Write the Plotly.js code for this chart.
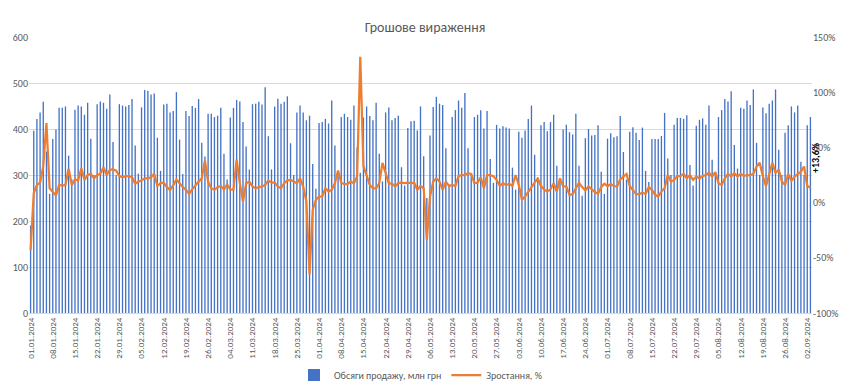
<!DOCTYPE html>
<html>
<head>
<meta charset="utf-8">
<script src="https://cdn.plot.ly/plotly-3.0.1.min.js"></script>
<style>html,body{margin:0;padding:0;background:#fff;}#chart{width:850px;height:390px;}</style>
</head>
<body>
<div id="chart"></div>
<script>
// Categories: daily dates from 01.01.2024 to 03.09.2024
const startDate = [2024, 0, 1];
const dayCount = 247;
const titleText = "Грошове вираження";
const seriesNames = ["Обсяги продажу, млн грн", "Зростання, %"];
const lastLabel = "+13,6%";

// Sales, mln UAH (left axis)
const sales = [
190,396,422,436,459,351,259,378,399,446,
446,449,342,290,442,451,449,431,457,379,
300,454,460,457,444,475,372,300,454,451,
449,452,465,364,303,447,485,483,475,477,
381,309,453,455,436,439,480,377,302,439,
428,450,446,465,370,340,433,433,426,429,
446,346,290,425,446,463,460,415,362,312,
454,455,459,453,491,384,312,449,466,455,
459,471,369,300,436,451,436,419,429,324,
270,413,415,422,412,462,364,300,426,433,
426,420,451,360,305,425,449,428,419,457,
346,286,436,447,419,424,429,317,277,402,
417,418,397,449,341,250,386,448,470,455,
452,358,280,426,441,462,446,478,358,300,
426,431,441,401,439,335,283,409,401,406,
403,401,316,268,394,381,397,422,451,344,
295,408,415,395,415,431,320,285,399,409,
393,388,433,320,255,380,400,386,387,408,
307,259,379,391,382,384,428,350,290,394,
404,392,376,403,309,285,378,378,378,385,
435,336,300,409,424,424,422,430,322,277,
407,420,423,409,451,333,300,426,441,465,
460,482,365,314,446,444,462,452,486,370,
300,447,434,455,462,486,355,300,392,408,
449,436,451,329,300,408,426
];

// Growth, % (right axis)
const growth = [
-43,8.6,16,18,33,72,13,10,6.5,16,
15.5,16,30.6,16,21,20,31,20.6,25,26,
22,25,26,32,25,29.7,30,29,24,23,
24,24,23,17,19,20,22,22,23,26,
15,
17.6,18,14,11.6,15.5,21,17.6,14,11.6,8,
12,16,19,22,38,19,13,11.6,14,15,
12,16.4,12,11.6,39,17.6,1,17.6,19,14.6,
13,14,14.6,16,20,18,18,14.6,13,17.6,
20,
20.6,19,17.6,22,14.6,1,-65,-6.5,2.5,5.5,
5.5,13,10,11.6,17.6,29,18,16.7,17,19,
17.6,23.6,132,33,23.6,16,13,13,17.6,36,
26.7,17.6,17,14.6,17.6,18,17.6,18,17.6,18,
11.6,
15,13,-34,5.5,19,22,19,11.6,19,15,
16,15,24,25,25,26.7,26,17.6,18,23,
13,25,25,24,20.6,15,17.6,16,17,15,
25,16,2.5,5.5,10,14.6,18,22,15,12,
10,
12,17.6,10,22,14.6,14.6,7,7.6,13,18,
14,11,14.6,11.6,9.5,8,14,17,15,16.7,
15,14.6,21,23.6,26,15,11.6,7.6,7.6,9,
8,14,11.6,7,5.5,10,13,25,19,20.6,
24,
24,26,22,25,20.6,23.6,22,24,25,27,
23.6,27.6,17.6,16,22,26,23.6,26.7,23.6,26,
24,25,25,26,32.7,36,23.6,15,25,36,
26.7,30,19,16,26,19.8,23.6,26,28,32.7,
15,13.6
];

// Axis ticks
const leftTicks = [0,100,200,300,400,500,600];
const rightTicks = [-100,-50,0,50,100,150];
const rightTickText = ["-100%","-50%","0%","50%","100%","150%"];
const tickStep = 7;

function pad(n){ return (n < 10 ? "0" : "") + n; }
const dates = [];
for (let i = 0; i < dayCount; i++) {
  const d = new Date(startDate[0], startDate[1], startDate[2] + i);
  dates.push(pad(d.getDate()) + "." + pad(d.getMonth() + 1) + "." + d.getFullYear());
}
const xTickVals = dates.filter((_, i) => i % tickStep === 0);

const grey = "#595959";
const font = "Calibri, Carlito, 'Liberation Sans', Roboto, sans-serif";

const traces = [
  {
    type: "bar",
    name: seriesNames[0],
    x: dates,
    y: sales,
    marker: { color: "#4472C4", line: { width: 0 } },
    yaxis: "y"
  },
  {
    type: "scatter",
    mode: "lines",
    name: seriesNames[1],
    x: dates,
    y: growth,
    line: { color: "#ED7D31", width: 2.25 },
    yaxis: "y2"
  }
];

const layout = {
  width: 850,
  height: 390,
  margin: { l: 29, r: 38, t: 37, b: 77, autoexpand: false },
  paper_bgcolor: "#ffffff",
  plot_bgcolor: "#ffffff",
  font: { family: font, color: grey, size: 10 },
  title: {
    text: titleText,
    font: { family: font, size: 14, color: grey },
    x: 0.5, xanchor: "center",
    y: 0.93, yanchor: "middle"
  },
  bargap: 0.58,
  showlegend: true,
  legend: {
    orientation: "h",
    x: 0.5, xanchor: "center",
    y: -0.225, yanchor: "middle",
    font: { family: font, size: 10, color: grey },
    traceorder: "normal"
  },
  xaxis: {
    type: "category",
    range: [-0.5, dayCount - 0.5],
    autorange: false,
    tickmode: "array",
    tickvals: xTickVals,
    ticktext: xTickVals,
    tickangle: -90,
    tickfont: { family: font, size: 9, color: grey },
    showgrid: false,
    showline: true,
    linecolor: "#d9d9d9",
    linewidth: 1,
    ticks: "",
    automargin: false
  },
  yaxis: {
    range: [0, 600],
    autorange: false,
    tickmode: "array",
    tickvals: leftTicks,
    showgrid: true,
    gridcolor: "#d9d9d9",
    gridwidth: 1,
    zeroline: false,
    ticks: "",
    tickfont: { family: font, size: 10, color: grey },
    automargin: false
  },
  yaxis2: {
    overlaying: "y",
    side: "right",
    range: [-100, 150],
    autorange: false,
    tickmode: "array",
    tickvals: rightTicks,
    ticktext: rightTickText,
    showgrid: false,
    zeroline: false,
    ticks: "",
    tickfont: { family: font, size: 10, color: grey },
    automargin: false
  },
  annotations: [
    {
      x: dates[dates.length - 1],
      y: growth[growth.length - 1],
      xref: "x",
      yref: "y2",
      text: "<b>" + lastLabel + "</b>",
      showarrow: false,
      textangle: -90,
      font: { family: font, size: 10, color: "#000000" },
      xanchor: "center",
      yanchor: "middle",
      xshift: 5,
      yshift: 30
    }
  ]
};

Plotly.newPlot("chart", traces, layout, { staticPlot: true, displayModeBar: false });
</script>
</body>
</html>
